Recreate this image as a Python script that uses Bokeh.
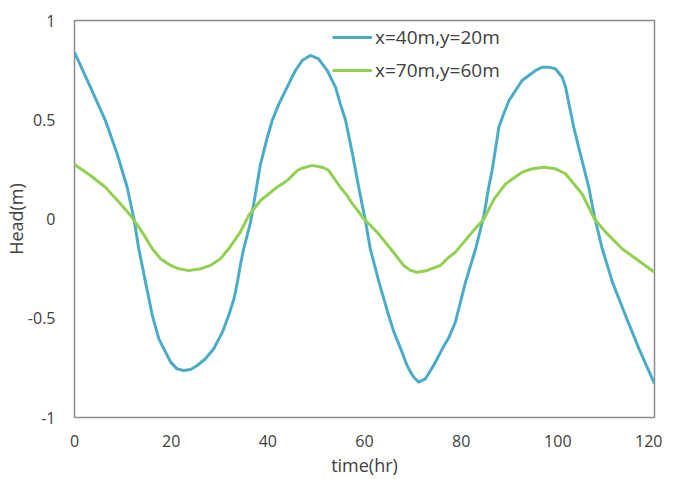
from bokeh.plotting import figure
from bokeh.models import Legend, LegendItem, FixedTicker, Range1d
from bokeh.embed import file_html
from bokeh.resources import INLINE

# Series 1: x=40m, y=20m
t_blue = [0, 3.3, 6.4, 8.8, 10.9, 12.3, 13.3, 16.1, 17.45, 18.5, 19.9, 21.2, 22.6,
          24.0, 25.4, 27.1, 28.8, 30.6, 31.9, 33.0, 33.7, 34.3, 35.0, 36.4, 38.5,
          39.9, 40.9, 42.3, 44.0, 45.7, 47.1, 48.8, 50.5, 52.3, 53.3, 54.0, 55.0,
          56.1, 56.8, 57.5, 58.8, 60.2, 61.2, 63.0, 65.0, 66.1, 67.5, 68.8, 69.5,
          70.2, 71.2, 72.6, 74.3, 76.1, 77.4, 78.8, 80.9, 83.0, 84.7, 85.7, 86.4,
          87.8, 88.8, 89.9, 92.6, 95.4, 96.8, 98.1, 99.5, 100.9, 101.6, 102.3,
          103.3, 104.3, 106.4, 107.6, 109.2, 111.3, 114.0, 116.8, 120]
h_blue = [0.84, 0.664, 0.496, 0.33, 0.16, 0.0, -0.15, -0.486, -0.604, -0.654, -0.721,
          -0.755, -0.763, -0.758, -0.738, -0.704, -0.654, -0.57, -0.486, -0.402,
          -0.318, -0.234, -0.15, -0.02, 0.278, 0.412, 0.496, 0.58, 0.664, 0.748,
          0.798, 0.824, 0.807, 0.748, 0.698, 0.664, 0.58, 0.496, 0.412, 0.33, 0.16,
          -0.01, -0.15, -0.318, -0.486, -0.57, -0.654, -0.738, -0.77, -0.797,
          -0.822, -0.805, -0.738, -0.654, -0.60, -0.52, -0.318, -0.15, 0.018,
          0.16, 0.244, 0.462, 0.53, 0.597, 0.698, 0.748, 0.765, 0.765, 0.757, 0.714,
          0.665, 0.58, 0.462, 0.362, 0.16, 0.01, -0.15, -0.318, -0.486, -0.654,
          -0.83]

# Series 2: x=70m, y=60m
t_green = [0, 3.3, 6.4, 9.5, 11.6, 14.0, 16.1, 17.8, 19.9, 21.2, 23.6, 26.1, 28.1,
           30.2, 31.9, 34.3, 36.1, 38.5, 41.9, 44.0, 46.1, 46.8, 49.2, 51.6, 52.6,
           55.0, 56.4, 57.5, 59.9, 62.6, 65.4, 68.1, 69.5, 70.9, 73.0, 75.7, 77.1,
           78.8, 82.3, 84.7, 86.8, 89.2, 92.6, 94.7, 97.1, 99.5, 101.6, 105.0,
           107.6, 109.9, 113.3, 120]
h_green = [0.275, 0.219, 0.16, 0.077, 0.018, -0.066, -0.15, -0.2, -0.234, -0.248,
           -0.26, -0.251, -0.234, -0.2, -0.15, -0.066, 0.02, 0.093, 0.16, 0.194,
           0.244, 0.253, 0.27, 0.258, 0.244, 0.16, 0.118, 0.077, 0.0, -0.066, -0.15,
           -0.234, -0.259, -0.268, -0.259, -0.234, -0.2, -0.167, -0.066, 0.0, 0.1,
           0.177, 0.236, 0.253, 0.261, 0.253, 0.228, 0.127, 0.0, -0.066, -0.15,
           -0.268]

series_names = ["x=40m,y=20m", "x=70m,y=60m"]
x_ticks = [0, 20, 40, 60, 80, 100, 120]
y_ticks = [-1, -0.5, 0, 0.5, 1]
y_tick_labels = ["-1", "-0.5", "0", "0.5", "1"]

FONT = "Open Sans"
TXT = "#404040"

p = figure(frame_width=580, frame_height=397, output_backend="svg",
           toolbar_location=None,
           x_range=Range1d(0, 120), y_range=Range1d(-1, 1))
p.min_border_left = 69
p.min_border_right = 8
p.min_border_top = 20
p.min_border_bottom = 50
p.background_fill_color = "white"
p.border_fill_color = "white"
p.outline_line_color = "#8c8c8c"
p.outline_line_width = 1.5
p.grid.visible = False

l1 = p.line(t_blue, h_blue, line_color="#4BACC6", line_width=3)
l2 = p.line(t_green, h_green, line_color="#92D050", line_width=3)

for ax in (p.xaxis[0], p.yaxis[0]):
    ax.axis_line_color = None
    ax.major_tick_line_color = None
    ax.minor_tick_line_color = None
    ax.major_label_text_font = FONT
    ax.major_label_text_font_size = "16px"
    ax.major_label_text_color = TXT
    ax.axis_label_text_font = FONT
    ax.axis_label_text_font_size = "18px"
    ax.axis_label_text_font_style = "normal"
    ax.axis_label_text_color = TXT

p.xaxis.ticker = FixedTicker(ticks=x_ticks)
p.yaxis.ticker = FixedTicker(ticks=y_ticks)
p.yaxis.major_label_overrides = {v: s for v, s in zip(y_ticks, y_tick_labels)}
p.xaxis.major_label_standoff = 11
p.yaxis.major_label_standoff = 13
p.xaxis.axis_label = "time(hr)"
p.yaxis.axis_label = "Head(m)"
p.xaxis.axis_label_standoff = 3
p.yaxis.axis_label_standoff = -3

legend = Legend(items=[LegendItem(label=series_names[0], renderers=[l1]),
                       LegendItem(label=series_names[1], renderers=[l2])],
                location=(258, 334))
legend.background_fill_alpha = 0
legend.border_line_color = None
legend.padding = 0
legend.margin = 0
legend.spacing = 7
legend.glyph_width = 40
legend.label_standoff = 3
legend.label_text_font = FONT
legend.label_text_font_size = "19px"
legend.label_text_color = TXT
p.add_layout(legend)

open("out.html", "w").write(file_html(p, INLINE))
